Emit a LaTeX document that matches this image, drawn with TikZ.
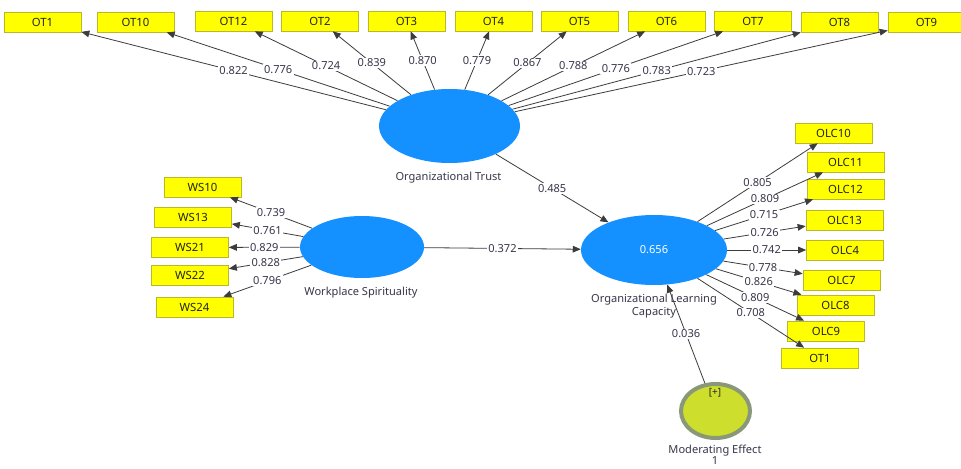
\documentclass[tikz,border=0pt]{standalone}
\usepackage{fontspec}
\setmainfont{Noto Sans}
\usetikzlibrary{shapes.geometric,arrows.meta}
\definecolor{lvblue}{RGB}{20,144,255}
\definecolor{indyellow}{RGB}{255,255,0}
\definecolor{boxborder}{RGB}{185,185,40}
\definecolor{linecol}{RGB}{60,60,60}
\definecolor{labcol}{RGB}{55,55,75}
\definecolor{boxtext}{RGB}{35,35,35}
\definecolor{modfill}{RGB}{205,222,45}
\definecolor{modborder}{RGB}{138,152,122}
\begin{document}
\begin{tikzpicture}[x=0.75pt,y=-0.75pt,
  ind/.style={draw=boxborder,line width=0.5pt,fill=indyellow,rectangle,minimum width=57.75pt,minimum height=15pt,inner sep=0pt,font=\fontsize{8.5}{10}\selectfont,text=boxtext},
  lv/.style={ellipse,fill=lvblue,inner sep=0pt,text=white,font=\fontsize{8.3}{10}\selectfont},
  plink/.style={draw=linecol,line width=0.6pt,-{Triangle[length=6pt,width=5pt]}},
  wt/.style={fill=white,inner sep=1pt,text=labcol,font=\fontsize{8.3}{10}\selectfont,pos=0.5},
  captxt/.style={text=labcol,font=\fontsize{8.3}{10}\selectfont,align=center,inner sep=0pt}]
\useasboundingbox (0,0) rectangle (961,468);
\clip (0,0) rectangle (961,468);
\fill[white] (0,0) rectangle (961,468);

% latent variables
\node[lv,minimum width=105.75pt,minimum height=55.5pt] (ot) at (449.5,126) {};
\node[lv,minimum width=93pt,minimum height=46.5pt] (ws) at (362,247) {};
\node[lv,minimum width=109.5pt,minimum height=52.5pt] (olc) at (654,250) {0.656};
\node[ellipse,fill=modfill,draw=modborder,line width=3pt,inner sep=0pt,minimum width=51.75pt,minimum height=40.5pt] (mod) at (715.5,411) {};
\node[captxt,text=boxtext,font=\fontsize{7.5}{9}\selectfont] (modplus) at (715,393) {[+]};

\node[captxt] (otlab) at (448.5,178) {Organizational Trust};
\node[captxt] (wslab) at (361,293) {Workplace Spirituality};
\node[captxt] (olclab) at (654,306) {Organizational Learning\\Capacity};
\node[captxt,font=\fontsize{8.3}{8.5}\selectfont] (modlab) at (715,455) {Moderating Effect\\1};

% OT indicators
\node[ind] (ot1) at (42.5,22) {OT1};
\node[ind] (ot10) at (135.5,22) {OT10};
\node[ind] (ot12) at (233.5,21) {OT12};
\node[ind] (ot2) at (320,21) {OT2};
\node[ind] (ot3) at (406.5,21) {OT3};
\node[ind] (ot4) at (493.5,21) {OT4};
\node[ind] (ot5) at (579.5,21) {OT5};
\node[ind] (ot6) at (666.5,21) {OT6};
\node[ind] (ot7) at (753,21) {OT7};
\node[ind] (ot8) at (839.5,22) {OT8};
\node[ind] (ot9) at (926.5,22) {OT9};

% WS indicators
\node[ind] (ws10) at (202.5,187) {WS10};
\node[ind] (ws13) at (193,217) {WS13};
\node[ind] (ws21) at (190,247.5) {WS21};
\node[ind] (ws22) at (190,275) {WS22};
\node[ind] (ws24) at (194.5,307) {WS24};

% OLC indicators
\node[ind] (olc10) at (833.5,133) {OLC10};
\node[ind] (olc11) at (845.5,162) {OLC11};
\node[ind] (olc12) at (845.5,189) {OLC12};
\node[ind] (olc13) at (844.5,220) {OLC13};
\node[ind] (olc4) at (845,250) {OLC4};
\node[ind] (olc7) at (841.5,280) {OLC7};
\node[ind] (olc8) at (835.5,305) {OLC8};
\node[ind] (olc9) at (826,331) {OLC9};
\node[ind] (otb) at (820,358) {OT1};

% OT loadings
\draw[plink] (ot) -- node[wt]{0.822} (ot1);
\draw[plink] (ot) -- node[wt]{0.776} (ot10);
\draw[plink] (ot) -- node[wt]{0.724} (ot12);
\draw[plink] (ot) -- node[wt]{0.839} (ot2);
\draw[plink] (ot) -- node[wt]{0.870} (ot3);
\draw[plink] (ot) -- node[wt]{0.779} (ot4);
\draw[plink] (ot) -- node[wt]{0.867} (ot5);
\draw[plink] (ot) -- node[wt]{0.788} (ot6);
\draw[plink] (ot) -- node[wt]{0.776} (ot7);
\draw[plink] (ot) -- node[wt]{0.783} (ot8);
\draw[plink] (ot) -- node[wt]{0.723} (ot9);

% WS loadings
\draw[plink] (ws) -- node[wt]{0.739} (ws10);
\draw[plink] (ws) -- node[wt]{0.761} (ws13);
\draw[plink] (ws) -- node[wt]{0.829} (ws21);
\draw[plink] (ws) -- node[wt]{0.828} (ws22);
\draw[plink] (ws) -- node[wt]{0.796} (ws24);

% OLC loadings
\draw[plink] (olc) -- node[wt]{0.805} (olc10);
\draw[plink] (olc) -- node[wt]{0.809} (olc11);
\draw[plink] (olc) -- node[wt]{0.715} (olc12);
\draw[plink] (olc) -- node[wt]{0.726} (olc13);
\draw[plink] (olc) -- node[wt]{0.742} (olc4);
\draw[plink] (olc) -- node[wt]{0.778} (olc7);
\draw[plink] (olc) -- node[wt]{0.826} (olc8);
\draw[plink] (olc) -- node[wt]{0.809} (olc9);
\draw[plink] (olc) -- node[wt]{0.708} (otb);

% structural paths
\draw[plink] (ot) -- node[wt]{0.485} (olc);
\draw[plink] (ws) -- node[wt]{0.372} (olc);
\draw[plink] (mod) -- node[wt]{0.036} (olc);
\end{tikzpicture}
\end{document}
